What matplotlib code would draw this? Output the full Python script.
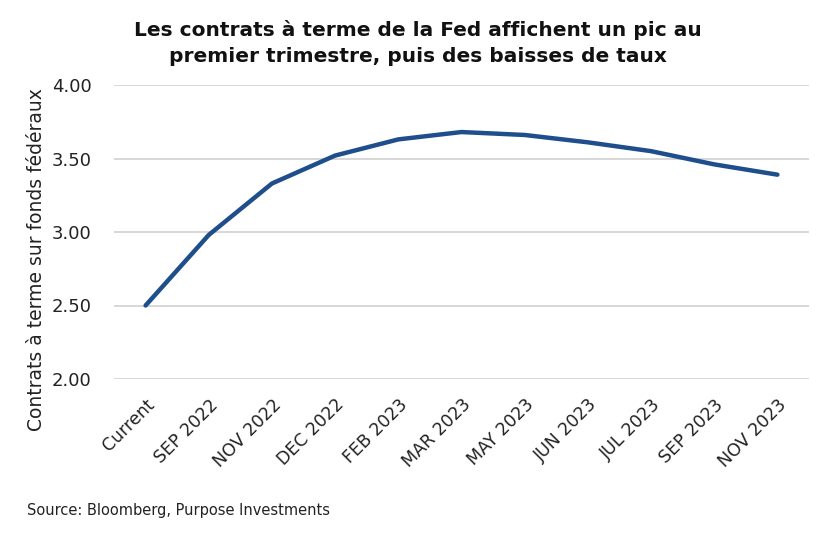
import matplotlib
matplotlib.use("Agg")
import matplotlib.pyplot as plt

categories = ["Current", "SEP 2022", "NOV 2022", "DEC 2022", "FEB 2023", "MAR 2023",
              "MAY 2023", "JUN 2023", "JUL 2023", "SEP 2023", "NOV 2023"]
values = [2.50, 2.98, 3.33, 3.52, 3.63, 3.68, 3.66, 3.61, 3.55, 3.46, 3.39]
yticks = [2.00, 2.50, 3.00, 3.50, 4.00]

plt.rcParams['font.family'] = ['DejaVu Sans']

fig = plt.figure(figsize=(8.35, 5.5), dpi=100)
ax = fig.add_axes([114/835, 1-379/550, (809-114)/835, (379-85)/550])

x = list(range(len(categories)))
ax.plot(x, values, color="#1F4E8C", linewidth=3.2, solid_capstyle="round", solid_joinstyle="round", zorder=3)

ax.set_xlim(-0.5, len(categories)-0.5)
ax.set_ylim(2.0, 4.0)
ax.set_yticks(yticks)
ax.set_yticklabels([f"{v:.2f}" for v in yticks], fontsize=13, color="#222222")
ax.set_xticks(x)
ax.set_xticklabels(categories, rotation=45, ha="right", va="top", rotation_mode="anchor",
                   fontsize=12.5, color="#222222")
ax.tick_params(axis="y", length=0, pad=16)
ax.tick_params(axis="x", length=0, pad=12)
ax.grid(axis="y", color="#d4d4d4", linewidth=1.3, linestyle="-", zorder=0)
for s in ax.spines.values():
    s.set_visible(False)

fig.text(37/835, 1-260/550, "Contrats à terme sur fonds fédéraux", rotation=90,
         ha="center", va="center", fontsize=13.5, color="#222222")

fig.text(418/835, 1-30/550, "Les contrats à terme de la Fed affichent un pic au",
         ha="center", va="center", fontsize=14.5, fontweight="bold", color="#111111")
fig.text(418/835, 1-57/550, "premier trimestre, puis des baisses de taux",
         ha="center", va="center", fontsize=14.5, fontweight="bold", color="#111111")

fig.text(27/835, 1-510/550, "Source: Bloomberg, Purpose Investments",
         ha="left", va="center", fontsize=10.5, color="#222222")

fig.savefig("out.png", dpi=100)
